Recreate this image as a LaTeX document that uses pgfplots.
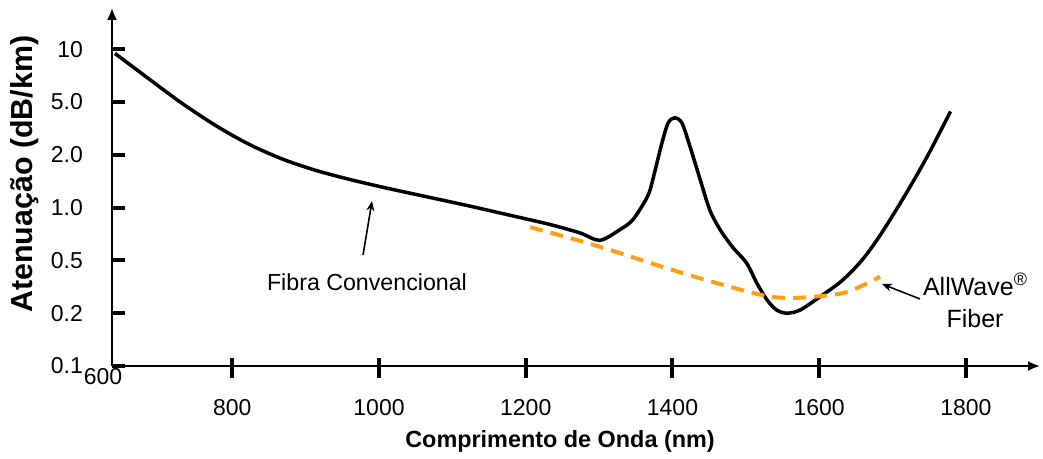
\documentclass[border=0pt]{standalone}
\usepackage{fontspec}
\setmainfont{Liberation Sans}
\usepackage{pgfplots}
\pgfplotsset{compat=1.18}
\usetikzlibrary{arrows.meta,calc}
\definecolor{awOrange}{RGB}{255,160,20}

\begin{document}
\begin{tikzpicture}
\begin{axis}[
  scale only axis, width=464pt, height=179pt,
  xmin=636, xmax=1901, ymin=0, ymax=6.78,
  enlargelimits=false,
  axis lines=left,
  axis line style={line width=1pt, -{Latex[length=6pt,width=5pt]}},
  xtick={800,1000,1200,1400,1600,1800},
  xticklabels={800,1000,1200,1400,1600,1800},
  ytick={0,1,2,3,4,5,6},
  yticklabels={0.1,0.2,0.5,1.0,2.0,5.0,10},
  tick align=inside,
  major tick length=6.5pt,
  tick style={line width=2pt, black},
  xtick style={/pgfplots/major tick length=10pt, yshift=-6pt},
  ticklabel style={font=\fontsize{11.5}{13}\selectfont},
  yticklabel style={xshift=-11pt},
  xticklabel style={yshift=-13pt},
  /pgf/number format/assume math mode=true,
  clip=false,
]
% Fibra convencional
\addplot[black, line width=1.75pt, smooth, tension=0.5] coordinates {
  (640,5.92) (688,5.42) (733,4.96) (779,4.54) (824,4.19) (870,3.91)
  (915,3.70) (961,3.53) (1010,3.37) (1060,3.22) (1120,3.04) (1180,2.85)
  (1233,2.68) (1274,2.52) (1301,2.38)
  (1328,2.58) (1346,2.77) (1366,3.21) (1373,3.52) (1385,4.19) (1394,4.60)
  (1403,4.70) (1413,4.60) (1424,4.15) (1438,3.52) (1451,2.95) (1465,2.58)
  (1482,2.25) (1501,1.95) (1515,1.57) (1529,1.25) (1542,1.06) (1556,1.00)
  (1574,1.06) (1601,1.31) (1628,1.58) (1647,1.83) (1665,2.12) (1688,2.58)
  (1719,3.28) (1747,3.96) (1779,4.82)
};
% AllWave Fiber
\addplot[awOrange, line width=2pt, smooth, tension=0.5,
  dash pattern=on 6.5pt off 4pt] coordinates {
  (1206,2.63) (1274,2.37) (1328,2.14) (1387,1.875) (1455,1.59)
  (1523,1.34) (1556,1.29) (1592,1.31) (1638,1.40) (1683,1.69)
};

\coordinate (O) at (rel axis cs:0,0);
\node[font=\fontsize{11.5}{13}\selectfont] at (rel axis cs:-0.0097,-0.0307) {600};
\node[font=\fontsize{11.7}{14}\selectfont\bfseries] at (rel axis cs:0.4828,-0.2095) {Comprimento de Onda (nm)};
\node[font=\fontsize{15.2}{18}\selectfont\bfseries, rotate=90] at (rel axis cs:-0.09375,0.536) {Atenuação (dB/km)};
\node[font=\fontsize{11.6}{14}\selectfont] at (rel axis cs:0.2748,0.2346) {Fibra Convencional};
\node[font=\fontsize{12.5}{16}\selectfont, align=center] at (rel axis cs:0.93,0.184) {AllWave\raisebox{0.75ex}{\fontsize{9}{9}\selectfont ®}\\Fiber};
\draw[line width=0.8pt, -{Stealth[length=5pt,width=4pt]}] (rel axis cs:0.2705,0.310) -- (rel axis cs:0.2802,0.4609);
\draw[line width=0.8pt, -{Stealth[length=5pt,width=4pt]}] (rel axis cs:0.8707,0.1872) -- (rel axis cs:0.8297,0.2291);
\end{axis}
\pgfresetboundingbox
\path ($(O)+(-56pt,-46.5pt)$) rectangle ++(521.5pt,229.5pt);
\end{tikzpicture}
\end{document}
